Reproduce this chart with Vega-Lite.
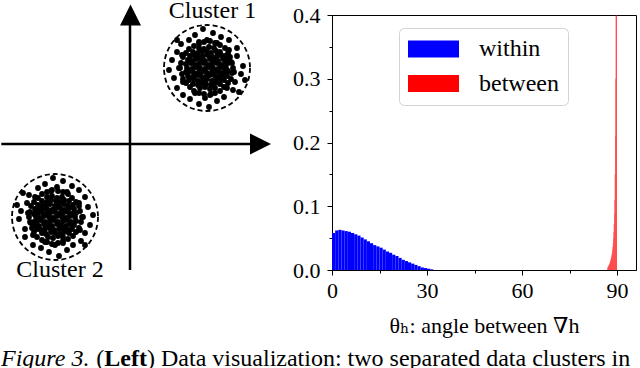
{
  "$schema": "https://vega.github.io/schema/vega-lite/v6.json",
  "padding": 0,
  "background": "white",
  "bounds": "flush",
  "spacing": 52,
  "center": true,
  "config": {
    "font": "Liberation Serif, Times New Roman, DejaVu Serif, serif",
    "view": {"stroke": null},
    "axis": {"labelFont": "Liberation Serif, Times New Roman, DejaVu Serif, serif", "titleFont": "Liberation Serif, Times New Roman, DejaVu Serif, serif"},
    "legend": {"labelFont": "Liberation Serif, Times New Roman, DejaVu Serif, serif"},
    "text": {"font": "Liberation Serif, Times New Roman, DejaVu Serif, serif"}
  },
  "datasets": {
    "axes": [
      {"x": -128.7, "x2": 121, "y": 0, "y2": 0},
      {"x": 0, "x2": 0, "y": -126, "y2": 120}
    ],
    "arrows": [
      {"x": 130.5, "y": 0, "dir": "right"},
      {"x": 0.5, "y": 129, "dir": "up"}
    ],
    "circles": [
      {"x": 77, "y": 76, "cluster": "Cluster 1"},
      {"x": -75, "y": -73, "cluster": "Cluster 2"}
    ],
    "labels": [
      {"x": 82.5, "y": 126.5, "text": "Cluster 1"},
      {"x": -70, "y": -133, "text": "Cluster 2"}
    ],
    "caption": [
      {"x": -129, "y": -222, "part": "fig", "text": "Figure 3."},
      {"x": -33.7, "y": -222, "part": "plain", "text": "("},
      {"x": -25.7, "y": -222, "part": "bold", "text": "Left"},
      {"x": 17, "y": -222, "part": "plain", "text": ") Data visualization: two separated data clusters in"}
    ],
    "dots": [
      {"x":69,"y":96},{"x":74,"y":95},{"x":79,"y":97},{"x":84,"y":96},
      {"x":63,"y":92},{"x":68,"y":91},{"x":72,"y":93},{"x":77,"y":92},{"x":81,"y":91},{"x":86,"y":93},{"x":90,"y":92},
      {"x":60,"y":88},{"x":64,"y":89},{"x":69,"y":87},{"x":73,"y":88},{"x":78,"y":89},{"x":82,"y":87},{"x":87,"y":88},{"x":91,"y":89},{"x":95,"y":88},
      {"x":58,"y":84},{"x":62,"y":83},{"x":66,"y":85},{"x":71,"y":84},{"x":75,"y":83},{"x":80,"y":85},{"x":84,"y":84},{"x":88,"y":83},{"x":93,"y":85},{"x":97,"y":84},
      {"x":56,"y":80},{"x":61,"y":81},{"x":65,"y":79},{"x":69,"y":80},{"x":74,"y":81},{"x":78,"y":79},{"x":82,"y":80},{"x":87,"y":81},{"x":91,"y":79},{"x":95,"y":80},{"x":98,"y":81},
      {"x":57,"y":76},{"x":62,"y":75},{"x":66,"y":77},{"x":70,"y":76},{"x":75,"y":75},{"x":79,"y":77},{"x":83,"y":76},{"x":88,"y":75},{"x":92,"y":77},{"x":96,"y":76},
      {"x":56,"y":72},{"x":60,"y":73},{"x":64,"y":71},{"x":69,"y":72},{"x":73,"y":73},{"x":77,"y":71},{"x":82,"y":72},{"x":86,"y":73},{"x":90,"y":71},{"x":94,"y":72},{"x":98,"y":73},
      {"x":58,"y":68},{"x":63,"y":67},{"x":67,"y":69},{"x":71,"y":68},{"x":76,"y":67},{"x":80,"y":69},{"x":85,"y":68},{"x":89,"y":67},{"x":93,"y":69},{"x":97,"y":68},
      {"x":59,"y":64},{"x":64,"y":65},{"x":68,"y":63},{"x":73,"y":64},{"x":77,"y":65},{"x":82,"y":63},{"x":86,"y":64},{"x":90,"y":65},{"x":94,"y":64},
      {"x":63,"y":60},{"x":68,"y":59},{"x":72,"y":61},{"x":76,"y":60},{"x":81,"y":59},{"x":85,"y":61},{"x":90,"y":60},
      {"x":70,"y":56},{"x":75,"y":57},{"x":80,"y":55},{"x":85,"y":56},
      {"x":103,"y":76},{"x":101,"y":82},{"x":100,"y":87},{"x":98,"y":91},{"x":95,"y":96},{"x":90,"y":99},{"x":85,"y":101},{"x":80,"y":103},{"x":74,"y":102},{"x":69,"y":100},
      {"x":64,"y":98},{"x":59,"y":95},{"x":56,"y":91},{"x":53,"y":87},{"x":51,"y":81},{"x":50,"y":76},{"x":52,"y":70},{"x":53,"y":65},{"x":56,"y":61},{"x":60,"y":57},
      {"x":64,"y":53},{"x":69,"y":51},{"x":74,"y":50},{"x":80,"y":49},{"x":85,"y":51},{"x":90,"y":53},{"x":94,"y":57},{"x":98,"y":61},{"x":101,"y":65},{"x":102,"y":71},
      {"x":107,"y":88},{"x":111,"y":70},{"x":103,"y":54},{"x":87,"y":43},{"x":69,"y":40},{"x":53,"y":49},{"x":44,"y":66},{"x":42,"y":84},{"x":51,"y":100},{"x":65,"y":109},
      {"x":83,"y":111},{"x":99,"y":104},{"x":113,"y":78},{"x":105,"y":62},{"x":94,"y":47},{"x":75,"y":46},{"x":60,"y":45},{"x":47,"y":56},{"x":49,"y":76},{"x":47,"y":92},
      {"x":59,"y":104},{"x":77,"y":104},{"x":91,"y":107},{"x":107,"y":96},{"x":104,"y":72},{"x":102,"y":81},{"x":97,"y":56},{"x":81,"y":50},{"x":65,"y":51},{"x":53,"y":62},
      {"x":52,"y":89},{"x":69,"y":102},{"x":87,"y":101},{"x":99,"y":94},{"x":115,"y":64},{"x":39,"y":74},{"x":79,"y":37},{"x":73,"y":115},{"x":109,"y":52},{"x":47,"y":104},
      {"x":-67,"y":-93},{"x":-72,"y":-92},{"x":-77,"y":-94},{"x":-82,"y":-93},
      {"x":-61,"y":-89},{"x":-66,"y":-88},{"x":-70,"y":-90},{"x":-75,"y":-89},{"x":-79,"y":-88},{"x":-84,"y":-90},{"x":-88,"y":-89},
      {"x":-58,"y":-85},{"x":-62,"y":-86},{"x":-67,"y":-84},{"x":-71,"y":-85},{"x":-76,"y":-86},{"x":-80,"y":-84},{"x":-85,"y":-85},{"x":-89,"y":-86},{"x":-93,"y":-85},
      {"x":-56,"y":-81},{"x":-60,"y":-80},{"x":-64,"y":-82},{"x":-69,"y":-81},{"x":-73,"y":-80},{"x":-78,"y":-82},{"x":-82,"y":-81},{"x":-86,"y":-80},{"x":-91,"y":-82},{"x":-95,"y":-81},
      {"x":-54,"y":-77},{"x":-59,"y":-78},{"x":-63,"y":-76},{"x":-67,"y":-77},{"x":-72,"y":-78},{"x":-76,"y":-76},{"x":-80,"y":-77},{"x":-85,"y":-78},{"x":-89,"y":-76},{"x":-93,"y":-77},{"x":-96,"y":-78},
      {"x":-55,"y":-73},{"x":-60,"y":-72},{"x":-64,"y":-74},{"x":-68,"y":-73},{"x":-73,"y":-72},{"x":-77,"y":-74},{"x":-81,"y":-73},{"x":-86,"y":-72},{"x":-90,"y":-74},{"x":-94,"y":-73},
      {"x":-54,"y":-69},{"x":-58,"y":-70},{"x":-62,"y":-68},{"x":-67,"y":-69},{"x":-71,"y":-70},{"x":-75,"y":-68},{"x":-80,"y":-69},{"x":-84,"y":-70},{"x":-88,"y":-68},{"x":-92,"y":-69},{"x":-96,"y":-70},
      {"x":-56,"y":-65},{"x":-61,"y":-64},{"x":-65,"y":-66},{"x":-69,"y":-65},{"x":-74,"y":-64},{"x":-78,"y":-66},{"x":-83,"y":-65},{"x":-87,"y":-64},{"x":-91,"y":-66},{"x":-95,"y":-65},
      {"x":-57,"y":-61},{"x":-62,"y":-62},{"x":-66,"y":-60},{"x":-71,"y":-61},{"x":-75,"y":-62},{"x":-80,"y":-60},{"x":-84,"y":-61},{"x":-88,"y":-62},{"x":-92,"y":-61},
      {"x":-61,"y":-57},{"x":-66,"y":-56},{"x":-70,"y":-58},{"x":-74,"y":-57},{"x":-79,"y":-56},{"x":-83,"y":-58},{"x":-88,"y":-57},
      {"x":-68,"y":-53},{"x":-73,"y":-54},{"x":-78,"y":-52},{"x":-83,"y":-53},
      {"x":-101,"y":-73},{"x":-99,"y":-79},{"x":-98,"y":-84},{"x":-96,"y":-88},{"x":-93,"y":-93},{"x":-88,"y":-96},{"x":-83,"y":-98},{"x":-78,"y":-100},{"x":-72,"y":-99},{"x":-67,"y":-97},
      {"x":-62,"y":-95},{"x":-57,"y":-92},{"x":-54,"y":-88},{"x":-51,"y":-84},{"x":-49,"y":-78},{"x":-48,"y":-73},{"x":-50,"y":-67},{"x":-51,"y":-62},{"x":-54,"y":-58},{"x":-58,"y":-54},
      {"x":-62,"y":-50},{"x":-67,"y":-48},{"x":-72,"y":-47},{"x":-78,"y":-46},{"x":-83,"y":-48},{"x":-88,"y":-50},{"x":-92,"y":-54},{"x":-96,"y":-58},{"x":-99,"y":-62},{"x":-100,"y":-68},
      {"x":-105,"y":-85},{"x":-109,"y":-67},{"x":-101,"y":-51},{"x":-85,"y":-40},{"x":-67,"y":-37},{"x":-51,"y":-46},{"x":-42,"y":-63},{"x":-40,"y":-81},{"x":-49,"y":-97},{"x":-63,"y":-106},
      {"x":-81,"y":-108},{"x":-97,"y":-101},{"x":-111,"y":-75},{"x":-103,"y":-59},{"x":-92,"y":-44},{"x":-73,"y":-43},{"x":-58,"y":-42},{"x":-45,"y":-53},{"x":-47,"y":-73},{"x":-45,"y":-89},
      {"x":-57,"y":-101},{"x":-75,"y":-101},{"x":-89,"y":-104},{"x":-105,"y":-93},{"x":-102,"y":-69},{"x":-100,"y":-78},{"x":-95,"y":-53},{"x":-79,"y":-47},{"x":-63,"y":-48},{"x":-51,"y":-59},
      {"x":-50,"y":-86},{"x":-67,"y":-99},{"x":-85,"y":-98},{"x":-97,"y":-91},{"x":-113,"y":-61},{"x":-37,"y":-71},{"x":-77,"y":-34},{"x":-71,"y":-112},{"x":-107,"y":-49},{"x":-45,"y":-101}
    ],
    "hist": [
      {"group":"within","start":0,"end":1,"density":0.058},
      {"group":"within","start":1,"end":2,"density":0.062},
      {"group":"within","start":2,"end":3,"density":0.063},
      {"group":"within","start":3,"end":4,"density":0.062},
      {"group":"within","start":4,"end":5,"density":0.061},
      {"group":"within","start":5,"end":6,"density":0.060},
      {"group":"within","start":6,"end":7,"density":0.058},
      {"group":"within","start":7,"end":8,"density":0.056},
      {"group":"within","start":8,"end":9,"density":0.054},
      {"group":"within","start":9,"end":10,"density":0.051},
      {"group":"within","start":10,"end":11,"density":0.048},
      {"group":"within","start":11,"end":12,"density":0.045},
      {"group":"within","start":12,"end":13,"density":0.042},
      {"group":"within","start":13,"end":14,"density":0.039},
      {"group":"within","start":14,"end":15,"density":0.037},
      {"group":"within","start":15,"end":16,"density":0.035},
      {"group":"within","start":16,"end":17,"density":0.032},
      {"group":"within","start":17,"end":18,"density":0.029},
      {"group":"within","start":18,"end":19,"density":0.027},
      {"group":"within","start":19,"end":20,"density":0.024},
      {"group":"within","start":20,"end":21,"density":0.022},
      {"group":"within","start":21,"end":22,"density":0.019},
      {"group":"within","start":22,"end":23,"density":0.016},
      {"group":"within","start":23,"end":24,"density":0.014},
      {"group":"within","start":24,"end":25,"density":0.012},
      {"group":"within","start":25,"end":26,"density":0.010},
      {"group":"within","start":26,"end":27,"density":0.008},
      {"group":"within","start":27,"end":28,"density":0.006},
      {"group":"within","start":28,"end":29,"density":0.004},
      {"group":"within","start":29,"end":30,"density":0.003},
      {"group":"within","start":30,"end":31,"density":0.002},
      {"group":"within","start":31,"end":32,"density":0.001},
      {"group":"between","start":86.9,"end":87.0,"density":0.002},
      {"group":"between","start":87.0,"end":87.1,"density":0.004},
      {"group":"between","start":87.1,"end":87.2,"density":0.005},
      {"group":"between","start":87.2,"end":87.3,"density":0.006},
      {"group":"between","start":87.3,"end":87.4,"density":0.007},
      {"group":"between","start":87.4,"end":87.5,"density":0.008},
      {"group":"between","start":87.5,"end":87.6,"density":0.009},
      {"group":"between","start":87.6,"end":87.7,"density":0.010},
      {"group":"between","start":87.7,"end":87.8,"density":0.012},
      {"group":"between","start":87.8,"end":87.9,"density":0.013},
      {"group":"between","start":87.9,"end":88.0,"density":0.015},
      {"group":"between","start":88.0,"end":88.1,"density":0.017},
      {"group":"between","start":88.1,"end":88.2,"density":0.019},
      {"group":"between","start":88.2,"end":88.3,"density":0.021},
      {"group":"between","start":88.3,"end":88.4,"density":0.024},
      {"group":"between","start":88.4,"end":88.5,"density":0.027},
      {"group":"between","start":88.5,"end":88.6,"density":0.031},
      {"group":"between","start":88.6,"end":88.7,"density":0.036},
      {"group":"between","start":88.7,"end":88.8,"density":0.042},
      {"group":"between","start":88.8,"end":88.9,"density":0.050},
      {"group":"between","start":88.9,"end":89.0,"density":0.060},
      {"group":"between","start":89.0,"end":89.1,"density":0.072},
      {"group":"between","start":89.1,"end":89.2,"density":0.088},
      {"group":"between","start":89.2,"end":89.3,"density":0.11},
      {"group":"between","start":89.3,"end":89.4,"density":0.15},
      {"group":"between","start":89.4,"end":89.5,"density":0.21},
      {"group":"between","start":89.5,"end":89.6,"density":0.30},
      {"group":"between","start":89.6,"end":89.7,"density":0.45},
      {"group":"between","start":89.7,"end":89.8,"density":0.9},
      {"group":"between","start":89.8,"end":89.9,"density":1.6},
      {"group":"between","start":89.9,"end":90.0,"density":3.0}
    ]
  },
  "hconcat": [
    {
      "width": 280,
      "height": 285,
      "view": {"stroke": null, "fill": "white"},
      "encoding": {
        "x": {"field": "x", "type": "quantitative", "scale": {"domain": [-130, 150], "nice": false, "zero": false}, "axis": null},
        "y": {"field": "y", "type": "quantitative", "scale": {"domain": [-141, 144], "nice": false, "zero": false}, "axis": null}
      },
      "layer": [
        {
          "data": {"name": "axes"},
          "mark": {"type": "rule", "color": "black", "strokeWidth": 2.5},
          "encoding": {"x2": {"field": "x2"}, "y2": {"field": "y2"}}
        },
        {
          "data": {"name": "arrows"},
          "mark": {"type": "point", "filled": true, "color": "black", "size": 441, "opacity": 1},
          "encoding": {
            "shape": {"field": "dir", "type": "nominal", "scale": {"domain": ["right", "up"], "range": ["M1,0L-1,-1L-1,1Z", "M0,-1L-1,1L1,1Z"]}, "legend": null}
          }
        },
        {
          "data": {"name": "dots"},
          "mark": {"type": "point", "filled": true, "color": "black", "size": 34, "opacity": 1}
        },
        {
          "data": {"name": "circles"},
          "mark": {"type": "point", "shape": "circle", "filled": false, "color": "black", "size": 7396, "strokeWidth": 1.8, "strokeDash": [5, 3], "opacity": 1}
        },
        {
          "data": {"name": "labels"},
          "mark": {"type": "text", "align": "center", "baseline": "alphabetic", "fontSize": 24, "color": "black", "clip": true, "font": "Liberation Serif, Times New Roman, DejaVu Serif, serif"},
          "encoding": {"text": {"field": "text"}}
        },
        {
          "data": {"name": "caption"},
          "transform": [{"filter": "datum.part === 'fig'"}],
          "mark": {"type": "text", "align": "left", "baseline": "alphabetic", "fontSize": 24, "fontStyle": "italic", "color": "black", "font": "Liberation Serif, Times New Roman, DejaVu Serif, serif"},
          "encoding": {"text": {"field": "text"}}
        },
        {
          "data": {"name": "caption"},
          "transform": [{"filter": "datum.part === 'bold'"}],
          "mark": {"type": "text", "align": "left", "baseline": "alphabetic", "fontSize": 24, "fontWeight": "bold", "color": "black", "font": "Liberation Serif, Times New Roman, DejaVu Serif, serif"},
          "encoding": {"text": {"field": "text"}}
        },
        {
          "data": {"name": "caption"},
          "transform": [{"filter": "datum.part === 'plain'"}],
          "mark": {"type": "text", "align": "left", "baseline": "alphabetic", "fontSize": 24, "color": "black", "font": "Liberation Serif, Times New Roman, DejaVu Serif, serif"},
          "encoding": {"text": {"field": "text"}}
        }
      ]
    },
    {
      "width": 304,
      "height": 255,
      "view": {"stroke": "black", "strokeWidth": 1},
      "data": {"name": "hist"},
      "mark": {"type": "bar", "clip": true, "strokeWidth": 0, "opacity": 1},
      "encoding": {
        "x": {
          "field": "start", "type": "quantitative",
          "scale": {"domain": [0, 96], "nice": false, "zero": false},
          "axis": {
            "values": [0, 15, 30, 45, 60, 75, 90],
            "labelExpr": "datum.value % 30 === 0 ? datum.label : ''",
            "tickSize": {"condition": {"test": "datum.value % 30 !== 0", "value": 3}, "value": 5},
            "title": "θₕ: angle between ∇h",
            "titleFont": "Liberation Serif, Times New Roman, DejaVu Serif, serif", "titleFontSize": 22, "titleFontWeight": "normal", "titleColor": "black", "titlePadding": 14,
            "labelFont": "Liberation Serif, Times New Roman, DejaVu Serif, serif", "labelFontSize": 22, "labelColor": "black", "labelPadding": 5, "labelFlush": false, "labelOverlap": false,
            "domainColor": "black", "tickColor": "black", "grid": false
          }
        },
        "x2": {"field": "end"},
        "y": {
          "field": "density", "type": "quantitative",
          "scale": {"domain": [0, 0.4], "nice": false},
          "axis": {
            "values": [0, 0.05, 0.1, 0.15, 0.2, 0.25, 0.3, 0.35, 0.4],
            "format": ".1f",
            "labelExpr": "round(datum.value * 100) % 10 === 0 ? datum.label : ''",
            "tickSize": {"condition": {"test": "round(datum.value * 100) % 10 !== 0", "value": 3}, "value": 5},
            "title": null,
            "labelFont": "Liberation Serif, Times New Roman, DejaVu Serif, serif", "labelFontSize": 22, "labelColor": "black", "labelPadding": 7, "labelOverlap": false, "labelFlush": false,
            "domainColor": "black", "tickColor": "black", "grid": false
          }
        },
        "y2": {"datum": 0},
        "color": {
          "field": "group", "type": "nominal",
          "scale": {"domain": ["within", "between"], "range": ["#0000ff", "#ff0000"]},
          "legend": {
            "orient": "none", "legendX": 399, "legendY": 28, "title": null,
            "symbolType": "M-1,-0.333H1V0.333H-1Z", "symbolSize": 2601, "symbolStrokeWidth": 0, "symbolOpacity": 1,
            "clipHeight": 24,
            "labelFont": "Liberation Serif, Times New Roman, DejaVu Serif, serif", "labelFontSize": 24, "labelColor": "black", "labelOffset": 20, "rowPadding": 10.5,
            "padding": 9, "strokeColor": "#d3d3d3", "fillColor": "white", "cornerRadius": 5
          }
        }
      }
    }
  ]
}
